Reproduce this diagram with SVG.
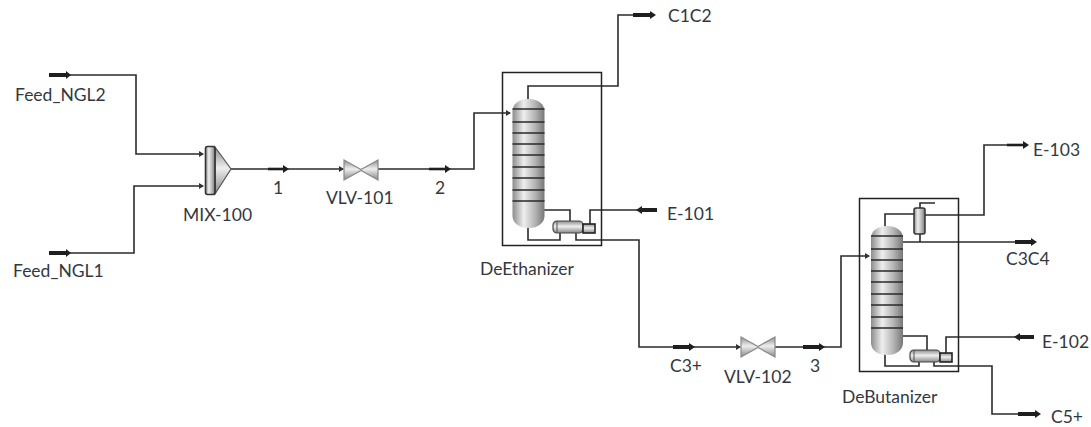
<svg xmlns="http://www.w3.org/2000/svg" width="1091" height="427" viewBox="0 0 1091 427">
<style>
.l{fill:none;stroke:#2b2b2b;stroke-width:1.6}
.t{fill:none;stroke:#1f1f1f;stroke-width:4}
.u{fill:none;stroke:#1f1f1f;stroke-width:2.6}
.a{fill:#1f1f1f}
.b{fill:none;stroke:#222;stroke-width:1.5}
.s{stroke:#2a2a2a;stroke-width:1.7}
text{font-family:Lato,"Noto Sans","Liberation Sans",sans-serif;font-size:17.5px;fill:#33383f}
</style>
<defs>
<linearGradient id="g" x1="0" y1="0" x2="1" y2="0"><stop offset="0" stop-color="#8c8c8c"/><stop offset=".35" stop-color="#eeeeee"/><stop offset=".7" stop-color="#b5b5b5"/><stop offset="1" stop-color="#777"/></linearGradient>
<linearGradient id="v" x1="0" y1="0" x2="0" y2="1"><stop offset="0" stop-color="#8c8c8c"/><stop offset=".45" stop-color="#eeeeee"/><stop offset="1" stop-color="#888"/></linearGradient>
<marker id="m" markerWidth="6" markerHeight="6" refX="4" refY="3" orient="auto" markerUnits="userSpaceOnUse"><path d="M0,0L5,3L0,6Z" fill="#333"/></marker>
<g id="col">
<rect x="0" y="0" width="32" height="129" rx="15" ry="12" fill="url(#g)"/>
<path class="s" d="M0,10H32M0,23H32M0,34H32M0,45H32M0,56H32M0,68H32M0,79H32M0,91H32M0,102H32" fill="none"/>
</g>
<g id="valve"><path d="M0,0L17,9.500L34,0V20L17,10.500L0,20Z" fill="url(#v)" stroke="#8a8a8a" stroke-width="1.2"/></g>
<g id="reb"><rect x="0" y="0" width="30" height="12" rx="4" fill="url(#v)" stroke="#444" stroke-width="1.2"/><path d="M4,0V12" stroke="#555"/><rect x="30" y="3" width="12" height="9" fill="url(#v)" stroke="#222" stroke-width="1.6"/></g>
</defs>

<g id="connectors">
<path class="l" d="M70,75H136V154H203" marker-end="url(#m)"/>
<path class="l" d="M70,253H134V186H203" marker-end="url(#m)"/>
<path class="l" d="M231,169H343" marker-end="url(#m)"/>
<path class="l" d="M377,169H474V113H510" marker-end="url(#m)"/>
<path class="l" d="M528,100V86H618V15H636"/>
<path class="l" d="M544,210H570V221"/>
<path class="l" d="M528,228V240H560V233"/>
<path class="l" d="M590,224V210H640"/>
<path class="l" d="M576,233V240H639V347H675"/>
<path class="l" d="M692,347H740" marker-end="url(#m)"/>
<path class="l" d="M775,347H841V256H869" marker-end="url(#m)"/>
<path class="l" d="M885,227V214H914"/>
<path class="l" d="M920,208V203H935"/>
<path class="l" d="M925,215H984V145H1010"/>
<path class="l" d="M902,242H1017"/>
<path class="l" d="M920,234V242"/>
<path class="l" d="M902,336H927V350"/>
<path class="l" d="M885,354V366H919V362"/>
<path class="l" d="M946,353V337H1017"/>
<path class="l" d="M934,362V366H992V414H1021"/>
</g>

<g id="streams">
<path class="t" d="M49,75H67"/><path class="a" d="M66,71L71,75L66,79Z"/>
<path class="t" d="M49,253H67"/><path class="a" d="M66,249L71,253L66,257Z"/>
<path class="u" d="M268,169H284"/><path class="a" d="M283,165L289,169L283,173Z"/>
<path class="u" d="M429,169H446"/><path class="a" d="M445,165L451,169L445,173Z"/>
<path class="t" d="M633,15H651"/><path class="a" d="M650,11L656,15L650,19Z"/>
<path class="t" d="M641,210H657"/><path class="a" d="M642,206L636,210L642,214Z"/>
<path class="t" d="M673,347H690"/><path class="a" d="M689,343L695,347L689,351Z"/>
<path class="t" d="M803,347H820"/><path class="a" d="M819,343L825,347L819,351Z"/>
<path class="u" d="M1007,145H1024"/><path class="a" d="M1023,141L1029,145L1023,149Z"/>
<path class="t" d="M1015,242H1032"/><path class="a" d="M1031,238L1037,242L1031,246Z"/>
<path class="t" d="M1019,337H1034"/><path class="a" d="M1020,333L1014,337L1020,341Z"/>
<path class="t" d="M1018,414H1036"/><path class="a" d="M1035,410L1041,414L1035,418Z"/>
</g>

<g id="MIX-100">
<path d="M215,147L231,169L215,194Z" fill="url(#v)" stroke="#555" stroke-width="1.2"/>
<rect x="205.500" y="146.500" width="9.500" height="48" rx="2" fill="url(#g)" stroke="#333" stroke-width="1.6"/>
<text x="183" y="221">MIX-100</text>
</g>
<g id="VLV-101"><use href="#valve" x="344" y="160"/><text x="326" y="204">VLV-101</text></g>
<g id="VLV-102"><use href="#valve" x="741" y="337"/><text x="724" y="383">VLV-102</text></g>
<g id="DeEthanizer">
<rect class="b" x="502.500" y="72.500" width="99" height="173"/>
<use href="#col" x="512.500" y="99"/>
<use href="#reb" x="553" y="221"/>
<text x="480" y="275">DeEthanizer</text>
</g>
<g id="DeButanizer">
<rect class="b" x="859.500" y="198.500" width="99" height="173"/>
<use href="#col" x="871" y="226"/>
<rect x="914" y="208" width="11" height="26" rx="2" fill="url(#g)" stroke="#333" stroke-width="1.5"/>
<use href="#reb" x="910" y="350"/>
<text x="842" y="403">DeButanizer</text>
</g>
<g id="labels">
<text x="15" y="101">Feed_NGL2</text>
<text x="13" y="277">Feed_NGL1</text>
<text x="273" y="194">1</text>
<text x="435" y="194">2</text>
<text x="668" y="22">C1C2</text>
<text x="667" y="220">E-101</text>
<text x="670" y="372">C3+</text>
<text x="810" y="372">3</text>
<text x="1033" y="156">E-103</text>
<text x="1006" y="265">C3C4</text>
<text x="1042" y="348">E-102</text>
<text x="1051" y="423">C5+</text>
</g>
</svg>
